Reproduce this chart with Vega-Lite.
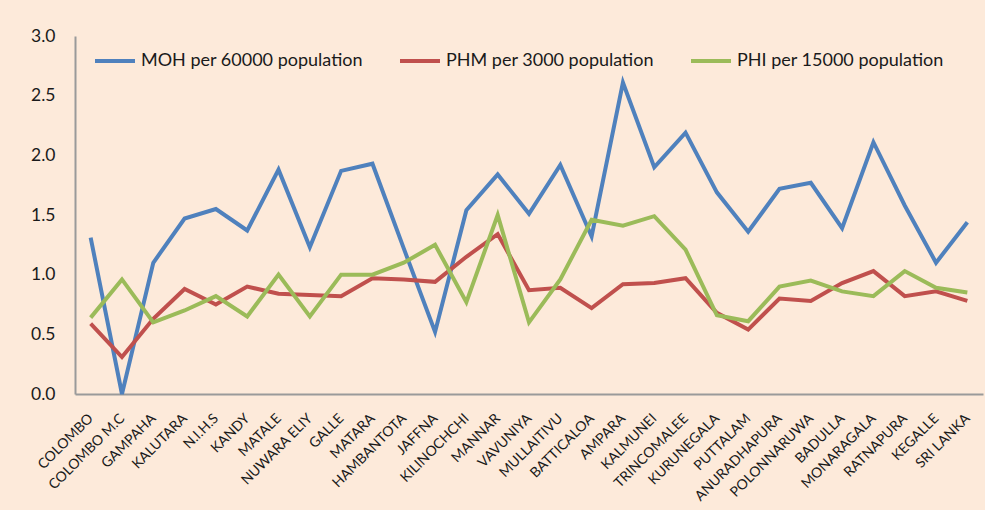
{
  "$schema": "https://vega.github.io/schema/vega-lite/v6.json",
  "width": 908,
  "height": 358,
  "autosize": {"type": "none"},
  "padding": {"left": 75, "top": 36, "right": 2, "bottom": 116},
  "background": "#FDEADA",
  "config": {
    "view": {"stroke": null},
    "font": "Lato",
    "axis": {"labelFont": "Lato", "labelColor": "#1a1a1a"},
    "legend": {"labelFont": "Lato"}
  },
  "data": {
    "values": [
      {"district": "COLOMBO", "series": "MOH per 60000 population", "value": 1.31},
      {"district": "COLOMBO M.C", "series": "MOH per 60000 population", "value": 0.0},
      {"district": "GAMPAHA", "series": "MOH per 60000 population", "value": 1.10},
      {"district": "KALUTARA", "series": "MOH per 60000 population", "value": 1.47},
      {"district": "N.I.H.S", "series": "MOH per 60000 population", "value": 1.55},
      {"district": "KANDY", "series": "MOH per 60000 population", "value": 1.37},
      {"district": "MATALE", "series": "MOH per 60000 population", "value": 1.88},
      {"district": "NUWARA ELIY", "series": "MOH per 60000 population", "value": 1.23},
      {"district": "GALLE", "series": "MOH per 60000 population", "value": 1.87},
      {"district": "MATARA", "series": "MOH per 60000 population", "value": 1.93},
      {"district": "HAMBANTOTA", "series": "MOH per 60000 population", "value": 1.22},
      {"district": "JAFFNA", "series": "MOH per 60000 population", "value": 0.52},
      {"district": "KILINOCHCHI", "series": "MOH per 60000 population", "value": 1.54},
      {"district": "MANNAR", "series": "MOH per 60000 population", "value": 1.84},
      {"district": "VAVUNIYA", "series": "MOH per 60000 population", "value": 1.51},
      {"district": "MULLAITIVU", "series": "MOH per 60000 population", "value": 1.92},
      {"district": "BATTICALOA", "series": "MOH per 60000 population", "value": 1.32},
      {"district": "AMPARA", "series": "MOH per 60000 population", "value": 2.61},
      {"district": "KALMUNEI", "series": "MOH per 60000 population", "value": 1.90},
      {"district": "TRINCOMALEE", "series": "MOH per 60000 population", "value": 2.19},
      {"district": "KURUNEGALA", "series": "MOH per 60000 population", "value": 1.69},
      {"district": "PUTTALAM", "series": "MOH per 60000 population", "value": 1.36},
      {"district": "ANURADHAPURA", "series": "MOH per 60000 population", "value": 1.72},
      {"district": "POLONNARUWA", "series": "MOH per 60000 population", "value": 1.77},
      {"district": "BADULLA", "series": "MOH per 60000 population", "value": 1.39},
      {"district": "MONARAGALA", "series": "MOH per 60000 population", "value": 2.11},
      {"district": "RATNAPURA", "series": "MOH per 60000 population", "value": 1.58},
      {"district": "KEGALLE", "series": "MOH per 60000 population", "value": 1.10},
      {"district": "SRI  LANKA", "series": "MOH per 60000 population", "value": 1.44},

      {"district": "COLOMBO", "series": "PHM per 3000 population", "value": 0.59},
      {"district": "COLOMBO M.C", "series": "PHM per 3000 population", "value": 0.31},
      {"district": "GAMPAHA", "series": "PHM per 3000 population", "value": 0.63},
      {"district": "KALUTARA", "series": "PHM per 3000 population", "value": 0.88},
      {"district": "N.I.H.S", "series": "PHM per 3000 population", "value": 0.75},
      {"district": "KANDY", "series": "PHM per 3000 population", "value": 0.90},
      {"district": "MATALE", "series": "PHM per 3000 population", "value": 0.84},
      {"district": "NUWARA ELIY", "series": "PHM per 3000 population", "value": 0.83},
      {"district": "GALLE", "series": "PHM per 3000 population", "value": 0.82},
      {"district": "MATARA", "series": "PHM per 3000 population", "value": 0.97},
      {"district": "HAMBANTOTA", "series": "PHM per 3000 population", "value": 0.96},
      {"district": "JAFFNA", "series": "PHM per 3000 population", "value": 0.94},
      {"district": "KILINOCHCHI", "series": "PHM per 3000 population", "value": 1.15},
      {"district": "MANNAR", "series": "PHM per 3000 population", "value": 1.34},
      {"district": "VAVUNIYA", "series": "PHM per 3000 population", "value": 0.87},
      {"district": "MULLAITIVU", "series": "PHM per 3000 population", "value": 0.89},
      {"district": "BATTICALOA", "series": "PHM per 3000 population", "value": 0.72},
      {"district": "AMPARA", "series": "PHM per 3000 population", "value": 0.92},
      {"district": "KALMUNEI", "series": "PHM per 3000 population", "value": 0.93},
      {"district": "TRINCOMALEE", "series": "PHM per 3000 population", "value": 0.97},
      {"district": "KURUNEGALA", "series": "PHM per 3000 population", "value": 0.68},
      {"district": "PUTTALAM", "series": "PHM per 3000 population", "value": 0.54},
      {"district": "ANURADHAPURA", "series": "PHM per 3000 population", "value": 0.80},
      {"district": "POLONNARUWA", "series": "PHM per 3000 population", "value": 0.78},
      {"district": "BADULLA", "series": "PHM per 3000 population", "value": 0.93},
      {"district": "MONARAGALA", "series": "PHM per 3000 population", "value": 1.03},
      {"district": "RATNAPURA", "series": "PHM per 3000 population", "value": 0.82},
      {"district": "KEGALLE", "series": "PHM per 3000 population", "value": 0.86},
      {"district": "SRI  LANKA", "series": "PHM per 3000 population", "value": 0.78},

      {"district": "COLOMBO", "series": "PHI per 15000 population", "value": 0.64},
      {"district": "COLOMBO M.C", "series": "PHI per 15000 population", "value": 0.96},
      {"district": "GAMPAHA", "series": "PHI per 15000 population", "value": 0.60},
      {"district": "KALUTARA", "series": "PHI per 15000 population", "value": 0.70},
      {"district": "N.I.H.S", "series": "PHI per 15000 population", "value": 0.82},
      {"district": "KANDY", "series": "PHI per 15000 population", "value": 0.65},
      {"district": "MATALE", "series": "PHI per 15000 population", "value": 1.00},
      {"district": "NUWARA ELIY", "series": "PHI per 15000 population", "value": 0.65},
      {"district": "GALLE", "series": "PHI per 15000 population", "value": 1.00},
      {"district": "MATARA", "series": "PHI per 15000 population", "value": 1.00},
      {"district": "HAMBANTOTA", "series": "PHI per 15000 population", "value": 1.10},
      {"district": "JAFFNA", "series": "PHI per 15000 population", "value": 1.25},
      {"district": "KILINOCHCHI", "series": "PHI per 15000 population", "value": 0.77},
      {"district": "MANNAR", "series": "PHI per 15000 population", "value": 1.50},
      {"district": "VAVUNIYA", "series": "PHI per 15000 population", "value": 0.60},
      {"district": "MULLAITIVU", "series": "PHI per 15000 population", "value": 0.96},
      {"district": "BATTICALOA", "series": "PHI per 15000 population", "value": 1.46},
      {"district": "AMPARA", "series": "PHI per 15000 population", "value": 1.41},
      {"district": "KALMUNEI", "series": "PHI per 15000 population", "value": 1.49},
      {"district": "TRINCOMALEE", "series": "PHI per 15000 population", "value": 1.21},
      {"district": "KURUNEGALA", "series": "PHI per 15000 population", "value": 0.66},
      {"district": "PUTTALAM", "series": "PHI per 15000 population", "value": 0.61},
      {"district": "ANURADHAPURA", "series": "PHI per 15000 population", "value": 0.90},
      {"district": "POLONNARUWA", "series": "PHI per 15000 population", "value": 0.95},
      {"district": "BADULLA", "series": "PHI per 15000 population", "value": 0.86},
      {"district": "MONARAGALA", "series": "PHI per 15000 population", "value": 0.82},
      {"district": "RATNAPURA", "series": "PHI per 15000 population", "value": 1.03},
      {"district": "KEGALLE", "series": "PHI per 15000 population", "value": 0.89},
      {"district": "SRI  LANKA", "series": "PHI per 15000 population", "value": 0.85}
    ]
  },
  "mark": {"type": "line", "strokeWidth": 4, "strokeJoin": "miter"},
  "encoding": {
    "x": {
      "field": "district",
      "type": "nominal",
      "sort": null,
      "scale": {"paddingOuter": 0.5},
      "axis": {
        "title": null,
        "labelAngle": -45,
        "labelAlign": "right",
        "labelBaseline": "middle",
        "labelPadding": 22,
        "labelFontSize": 14,
        "labelOverlap": false,
        "labelBound": false,
        "labelLimit": 300,
        "ticks": false,
        "domainColor": "#9a9a9a",
        "domainWidth": 2
      }
    },
    "y": {
      "field": "value",
      "type": "quantitative",
      "scale": {"domain": [0, 3], "nice": false, "zero": true},
      "axis": {
        "title": null,
        "values": [0, 0.5, 1, 1.5, 2, 2.5, 3],
        "format": ".1f",
        "grid": false,
        "ticks": false,
        "labelFontSize": 17.5,
        "labelPadding": 20,
        "domainColor": "#9a9a9a",
        "domainWidth": 2
      }
    },
    "color": {
      "field": "series",
      "type": "nominal",
      "scale": {
        "domain": ["MOH per 60000 population", "PHM per 3000 population", "PHI per 15000 population"],
        "range": ["#4F81BD", "#C0504D", "#9BBB59"]
      },
      "legend": {
        "title": null,
        "orient": "none",
        "legendX": 18,
        "legendY": 3,
        "direction": "horizontal",
        "symbolType": "stroke",
        "symbolSize": 1600,
        "symbolStrokeWidth": 4,
        "labelFontSize": 18,
        "labelColor": "#1a1a1a",
        "labelOffset": 4,
        "labelLimit": 400,
        "columnPadding": 29
      }
    }
  }
}
